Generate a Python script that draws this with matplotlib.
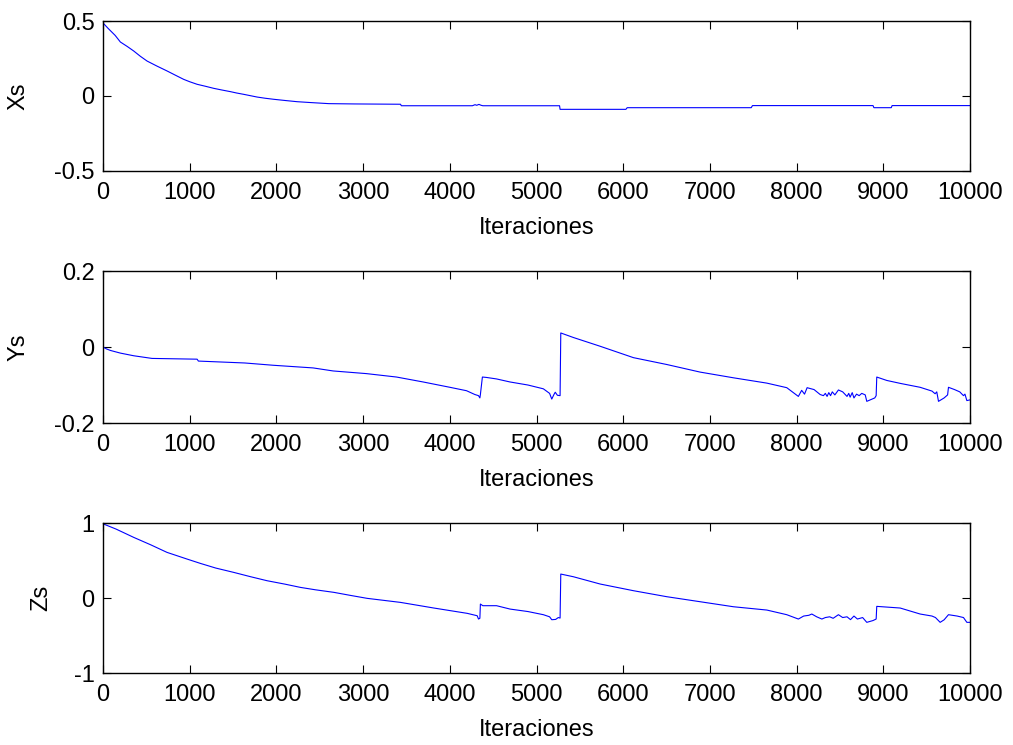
import matplotlib
matplotlib.use("Agg")
import matplotlib.pyplot as plt

plt.rcParams["font.family"] = ["Liberation Sans", "DejaVu Sans"]
plt.rcParams["axes.unicode_minus"] = False

# Sun-vector components over the iterations (read at breakpoints)
xs_iter = [0, 60, 140, 200, 280, 354, 430, 508, 620, 738, 830, 930, 1000, 1085,
           1180, 1277, 1370, 1469, 1540, 1623, 1700, 1777, 1870, 1969, 2100,
           2238, 2400, 2604, 2900, 3431, 3440, 4260, 4290, 4310, 4335, 4360,
           4380, 5265, 5271, 6030, 6045, 7475, 7490, 8880, 8890, 9090, 9100, 10000]
xs_val = [0.487, 0.45, 0.404, 0.36, 0.33, 0.30, 0.265, 0.233, 0.20, 0.167,
          0.14, 0.111, 0.095, 0.078, 0.065, 0.051, 0.04, 0.029, 0.02, 0.011,
          0.002, -0.007, -0.015, -0.022, -0.03, -0.038, -0.044, -0.051, -0.053,
          -0.055, -0.065, -0.065, -0.058, -0.062, -0.056, -0.062, -0.065,
          -0.065, -0.089, -0.089, -0.078, -0.078, -0.064, -0.064, -0.078,
          -0.078, -0.064, -0.064]

ys_iter = [0, 40, 85, 200, 354, 565, 1085, 1100, 1635, 1962, 2423, 2654, 3038,
           3385, 3692, 4000, 4192, 4288, 4330, 4346, 4352, 4375, 4420, 4538,
           4694, 4900, 5078, 5150, 5175, 5200, 5215, 5240, 5271, 5279, 5425,
           5733, 6117, 6501, 6886, 7270, 7655, 7885, 8019, 8057, 8090, 8120,
           8135, 8200, 8270, 8308, 8330, 8350, 8370, 8390, 8410, 8440, 8481,
           8530, 8580, 8600, 8616, 8640, 8660, 8690, 8720, 8750, 8790, 8808,
           8900, 8916, 8923, 9039, 9200, 9423, 9560, 9596, 9615, 9635, 9700,
           9740, 9750, 9820, 9880, 9923, 9940, 9962, 10000]
ys_val = [0.0, -0.005, -0.009, -0.016, -0.023, -0.030, -0.032, -0.037, -0.042,
          -0.048, -0.055, -0.063, -0.070, -0.079, -0.092, -0.106, -0.115,
          -0.125, -0.128, -0.134, -0.125, -0.079, -0.080, -0.084, -0.092,
          -0.100, -0.110, -0.122, -0.137, -0.125, -0.119, -0.127, -0.128,
          0.037, 0.025, 0.002, -0.028, -0.046, -0.066, -0.081, -0.095, -0.107,
          -0.130, -0.114, -0.124, -0.107, -0.108, -0.112, -0.125, -0.128,
          -0.122, -0.130, -0.120, -0.128, -0.118, -0.126, -0.113, -0.118,
          -0.130, -0.122, -0.132, -0.120, -0.134, -0.124, -0.128, -0.122,
          -0.126, -0.143, -0.134, -0.128, -0.079, -0.088, -0.096, -0.106,
          -0.116, -0.123, -0.118, -0.143, -0.134, -0.126, -0.106, -0.112,
          -0.118, -0.128, -0.124, -0.141, -0.139]

zs_iter = [0, 150, 354, 550, 738, 969, 1123, 1300, 1508, 1700, 1892, 2100,
           2277, 2450, 2662, 2850, 3046, 3431, 3815, 4200, 4315, 4330, 4346,
           4352, 4380, 4538, 4694, 4900, 5078, 5150, 5175, 5220, 5250, 5271,
           5279, 5425, 5733, 6117, 6501, 6886, 7270, 7655, 7885, 8019, 8080,
           8140, 8174, 8230, 8290, 8330, 8380, 8420, 8481, 8530, 8580, 8620,
           8660, 8700, 8760, 8808, 8880, 8916, 8923, 9193, 9423, 9560, 9600,
           9654, 9700, 9750, 9850, 9923, 9962, 10000]
zs_val = [0.99, 0.92, 0.809, 0.71, 0.609, 0.52, 0.462, 0.40, 0.342, 0.285,
          0.231, 0.185, 0.142, 0.11, 0.076, 0.036, -0.004, -0.058, -0.133,
          -0.204, -0.236, -0.28, -0.27, -0.08, -0.102, -0.102, -0.147, -0.18,
          -0.222, -0.25, -0.289, -0.285, -0.26, -0.267, 0.32, 0.284, 0.187,
          0.098, 0.018, -0.049, -0.116, -0.16, -0.222, -0.28, -0.24, -0.23,
          -0.213, -0.25, -0.28, -0.26, -0.25, -0.27, -0.222, -0.26, -0.25,
          -0.288, -0.24, -0.28, -0.26, -0.324, -0.30, -0.28, -0.111, -0.133,
          -0.213, -0.24, -0.26, -0.324, -0.29, -0.222, -0.24, -0.26, -0.324,
          -0.324]

x_ticks = [0, 1000, 2000, 3000, 4000, 5000, 6000, 7000, 8000, 9000, 10000]

panels = [
    ("Xs", xs_iter, xs_val, (-0.5, 0.5), [-0.5, 0, 0.5], ["-0.5", "0", "0.5"], -0.085),
    ("Ys", ys_iter, ys_val, (-0.2, 0.2), [-0.2, 0, 0.2], ["-0.2", "0", "0.2"], -0.085),
    ("Zs", zs_iter, zs_val, (-1, 1), [-1, 0, 1], ["-1", "0", "1"], -0.059),
]

fig = plt.figure(figsize=(10.13, 7.45), dpi=100)
rects = [
    [0.1017, 0.7705, 0.856, 0.2013],
    [0.1017, 0.4322, 0.856, 0.2040],
    [0.1017, 0.0966, 0.856, 0.2013],
]

for rect, (name, xv, yv, ylim, yt, ytl, ylab_x) in zip(rects, panels):
    ax = fig.add_axes(rect)
    ax.plot(xv, yv, color="#0000ff", linewidth=0.8)
    ax.set_xlim(0, 10000)
    ax.set_ylim(*ylim)
    ax.set_xticks(x_ticks)
    ax.set_xticklabels([str(t) for t in x_ticks])
    ax.set_yticks(yt)
    ax.set_yticklabels(ytl)
    ax.tick_params(direction="in", top=True, right=True, length=6,
                   width=0.8, labelsize=17, pad=6)
    ax.tick_params(axis="x", pad=8)
    for sp in ax.spines.values():
        sp.set_linewidth(1.0)
    ax.set_xlabel("Iteraciones", fontsize=17, labelpad=9)
    ax.set_ylabel(name, fontsize=17)
    ax.yaxis.set_label_coords(ylab_x, 0.5)

fig.savefig("out.png", dpi=100)
